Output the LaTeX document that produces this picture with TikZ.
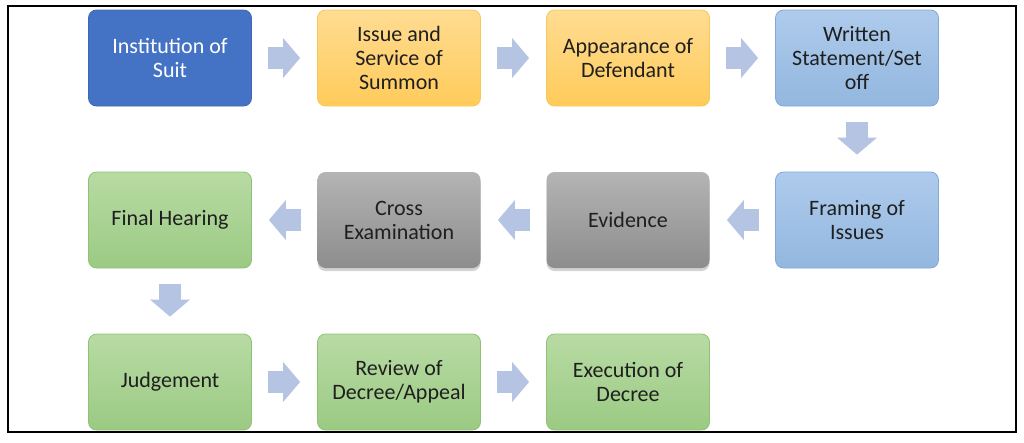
\documentclass[tikz,border=0pt]{standalone}
\usepackage{fontspec}
\setmainfont{Carlito}
\usetikzlibrary{arrows.meta,shadows}
\definecolor{suitblue}{HTML}{4472C4}
\definecolor{suitedge}{HTML}{3D67B2}
\definecolor{goldtop}{HTML}{FFDC92}
\definecolor{goldbottom}{HTML}{FFCB5A}
\definecolor{goldedge}{HTML}{F8C75A}
\definecolor{skytop}{HTML}{AECBEC}
\definecolor{skybottom}{HTML}{93B7DF}
\definecolor{skyedge}{HTML}{82A9D6}
\definecolor{greytop}{HTML}{B4B4B4}
\definecolor{greybottom}{HTML}{8D8D8D}
\definecolor{greentop}{HTML}{B8DBA4}
\definecolor{greenbottom}{HTML}{9BCA83}
\definecolor{greenedge}{HTML}{8FC274}
\definecolor{arrowfill}{HTML}{B4C4E2}
\tikzset{
  stagebox/.style={rectangle, rounded corners=8pt, minimum width=163pt, minimum height=96pt,
    inner sep=0pt, align=center, font=\fontsize{22}{24}\selectfont, text=black!88, line width=0.8pt},
  goldbox/.style={top color=goldtop, bottom color=goldbottom, draw=goldedge},
  skybox/.style={top color=skytop, bottom color=skybottom, draw=skyedge},
  greybox/.style={top color=greytop, bottom color=greybottom,
    drop shadow={opacity=0.35, shadow xshift=0pt, shadow yshift=-3pt}},
  greenbox/.style={top color=greentop, bottom color=greenbottom, draw=greenedge},
  flowarrow/.style={draw=arrowfill, line width=22pt,
    -{Triangle[length=17pt, width=40pt, line width=0pt]}, shorten <=16pt, shorten >=17pt},
}
\begin{document}
\begin{tikzpicture}[x=1pt,y=-1pt]
\useasboundingbox (0,0) rectangle (1024,442);
% first row
\node[stagebox, fill=suitblue, draw=suitedge, text=white] (suit) at (170,58) {Institution of\\Suit};
\node[stagebox, goldbox] (summon) at (399,58) {Issue and\\Service of\\Summon};
\node[stagebox, goldbox] (appear) at (628,58) {Appearance of\\Defendant};
\node[stagebox, skybox] (written) at (857,58) {Written\\Statement/Set\\off};
% second row
\node[stagebox, skybox] (framing) at (857,220) {Framing of\\Issues};
\node[stagebox, greybox] (evidence) at (628,220) {Evidence};
\node[stagebox, greybox] (cross) at (399,220) {Cross\\Examination};
\node[stagebox, greenbox] (hearing) at (170,220) {Final Hearing};
% third row
\node[stagebox, greenbox] (judgement) at (170,382) {Judgement};
\node[stagebox, greenbox] (review) at (399,382) {Review of\\Decree/Appeal};
\node[stagebox, greenbox] (execution) at (628,382) {Execution of\\Decree};
% arrows
\draw[flowarrow] (suit) -- (summon);
\draw[flowarrow] (summon) -- (appear);
\draw[flowarrow] (appear) -- (written);
\draw[flowarrow] (written) -- (framing);
\draw[flowarrow] (framing) -- (evidence);
\draw[flowarrow] (evidence) -- (cross);
\draw[flowarrow] (cross) -- (hearing);
\draw[flowarrow] (hearing) -- (judgement);
\draw[flowarrow] (judgement) -- (review);
\draw[flowarrow] (review) -- (execution);
% frame
\draw[line width=2pt] (8,6) rectangle (1016,432);
\end{tikzpicture}
\end{document}
